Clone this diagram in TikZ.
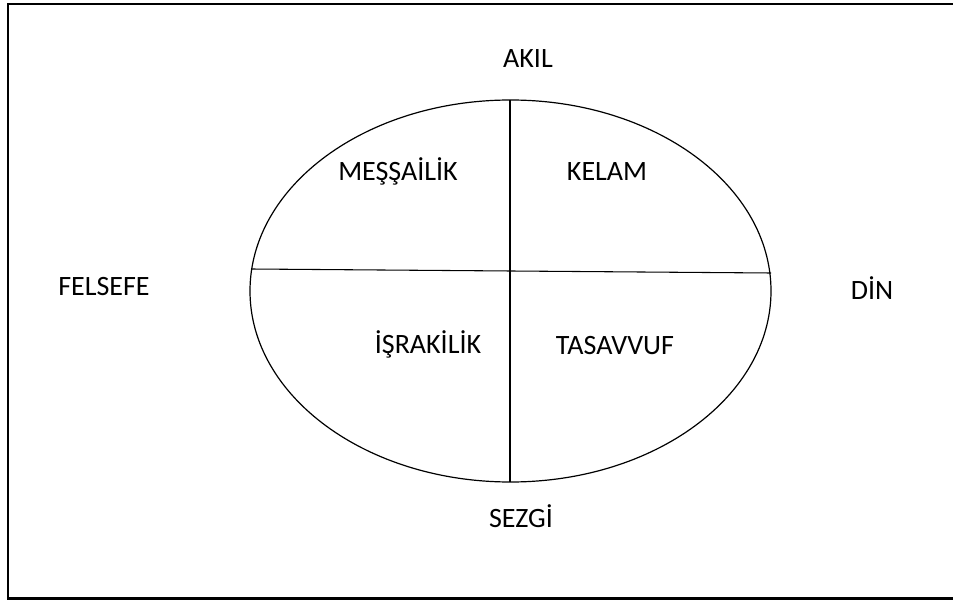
\documentclass[tikz,border=0pt]{standalone}
\usepackage{fontspec}
\setmainfont{Carlito}
\usetikzlibrary{positioning,calc}
\definecolor{diagline}{RGB}{0,0,0}
\definecolor{diagtext}{RGB}{0,0,0}

\begin{document}
\begin{tikzpicture}[x=0.75pt,y=-0.75pt,
  lbl/.style={font=\fontsize{21}{25}\selectfont,text=diagtext,inner sep=0pt}]
\useasboundingbox (0,0) rectangle (953,602);
% frame
\draw[diagline,line width=1.6pt] (956,4) -- (8,4) -- (8,598.5) -- (956,598.5);
% ellipse and axes
\draw[diagline,line width=0.9pt] (510.5,291) ellipse (260.5 and 191);
\coordinate (top) at (510,100);
\coordinate (bot) at (510,482);
\coordinate (lft) at (251,269);
\coordinate (rgt) at (771,273);
\draw[diagline,line width=0.8pt] (top) -- (bot);
\draw[diagline,line width=0.8pt] (lft) -- (rgt);
% poles
\node[lbl] (akil) at (528,59) {AKIL};
\node[lbl] (sezgi) at (521,516) {SEZGİ};
\node[lbl] (felsefe) at (104,287) {FELSEFE};
\node[lbl] (din) at (872,288) {DİN};
% quarters
\node[lbl] (messailik) at (398,171) {MEŞŞAİLİK};
\node[lbl] (kelam) at (607,172) {KELAM};
\node[lbl] (israkilik) at (428,344) {İŞRAKİLİK};
\node[lbl] (tasavvuf) at (615,346) {TASAVVUF};
\end{tikzpicture}
\end{document}
